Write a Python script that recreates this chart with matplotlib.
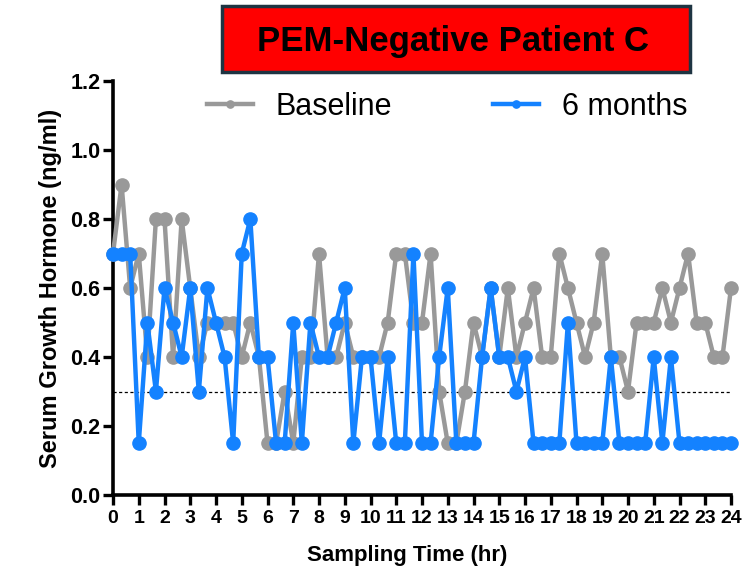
import matplotlib
matplotlib.use("Agg")
import matplotlib.pyplot as plt
from matplotlib import font_manager
from matplotlib.patches import FancyBboxPatch

plt.rcParams['font.family'] = ['Liberation Sans', 'DejaVu Sans']
names = {f.name for f in font_manager.fontManager.ttflist}
narrow = 'Liberation Sans Narrow' if 'Liberation Sans Narrow' in names else 'Liberation Sans'

# sampling every 20 minutes, 0..24 hr
time_hr = [i / 3 for i in range(73)]

baseline = [0.7, 0.9, 0.6, 0.7, 0.4, 0.8, 0.8, 0.4, 0.8, 0.6,
            0.4, 0.5, 0.5, 0.5, 0.5, 0.4, 0.5, 0.4, 0.15, 0.15,
            0.3, 0.15, 0.4, 0.4, 0.7, 0.4, 0.4, 0.5, 0.4, 0.4,
            0.4, 0.4, 0.5, 0.7, 0.7, 0.5, 0.5, 0.7, 0.3, 0.15,
            0.15, 0.3, 0.5, 0.4, 0.6, 0.4, 0.6, 0.4, 0.5, 0.6,
            0.4, 0.4, 0.7, 0.6, 0.5, 0.4, 0.5, 0.7, 0.4, 0.4,
            0.3, 0.5, 0.5, 0.5, 0.6, 0.5, 0.6, 0.7, 0.5, 0.5,
            0.4, 0.4, 0.6]

six_months = [0.7, 0.7, 0.7, 0.15, 0.5, 0.3, 0.6, 0.5, 0.4, 0.6,
              0.3, 0.6, 0.5, 0.4, 0.15, 0.7, 0.8, 0.4, 0.4, 0.15,
              0.15, 0.5, 0.15, 0.5, 0.4, 0.4, 0.5, 0.6, 0.15, 0.4,
              0.4, 0.15, 0.4, 0.15, 0.15, 0.7, 0.15, 0.15, 0.4, 0.6,
              0.15, 0.15, 0.15, 0.4, 0.6, 0.4, 0.4, 0.3, 0.4, 0.15,
              0.15, 0.15, 0.15, 0.5, 0.15, 0.15, 0.15, 0.15, 0.4, 0.15,
              0.15, 0.15, 0.15, 0.4, 0.15, 0.4, 0.15, 0.15, 0.15, 0.15,
              0.15, 0.15, 0.15]

threshold = 0.3
x_ticks = list(range(25))
y_ticks = [0.0, 0.2, 0.4, 0.6, 0.8, 1.0, 1.2]

gray = '#999999'
blue = '#1482FF'

fig = plt.figure(figsize=(7.56, 5.72), dpi=100)
ax = fig.add_axes([113/756, 1 - 495/572, (731-113)/756, (495-81)/572])

l1, = ax.plot(time_hr, baseline, color=gray, lw=3.2, marker='o', ms=9.5,
              clip_on=False, zorder=3, label='Baseline')
l2, = ax.plot(time_hr, six_months, color=blue, lw=3.2, marker='o', ms=9.5,
              clip_on=False, zorder=4, label='6 months')
ax.plot([0, 24], [threshold, threshold], color='black', lw=0.9,
        ls=(0, (2.5, 2)), zorder=2)

ax.set_xlim(0, 24)
ax.set_ylim(0, 1.2)
ax.set_xticks(x_ticks)
ax.set_xticklabels([str(t) for t in x_ticks], fontsize=14, fontweight='bold',
                   family=[narrow, 'DejaVu Sans'])
ax.set_yticks(y_ticks)
ax.set_yticklabels([f'{v:.1f}' for v in y_ticks], fontsize=15.5, fontweight='bold',
                   family=[narrow, 'DejaVu Sans'])

for s in ['top', 'right']:
    ax.spines[s].set_visible(False)
for s in ['left', 'bottom']:
    ax.spines[s].set_linewidth(2.6)
ax.tick_params(axis='both', width=2.4, length=7, direction='out')
ax.tick_params(axis='x', pad=4)
ax.tick_params(axis='y', pad=2)

ax.set_xlabel('Sampling Time (hr)', fontsize=16, fontweight='bold')
ax.xaxis.set_label_coords((407-113)/(731-113), -(545-495)/(495-81))
ax.set_ylabel('Serum Growth Hormone (ng/ml)', fontsize=17, fontweight='bold', labelpad=6)

ax.legend(handles=[l1, l2], loc='center', bbox_to_anchor=(447/756, 1 - 107/572),
          bbox_transform=fig.transFigure, ncol=2, frameon=False,
          fontsize=22, markerscale=0.55, handlelength=1.5,
          columnspacing=3.3, handletextpad=0.75)

# title box
fig.patches.append(FancyBboxPatch((222/756, 1 - 72/572), (690-222)/756, (72-6)/572,
                                  boxstyle='square,pad=0', transform=fig.transFigure,
                                  facecolor='#FF0000', edgecolor='#1E3442', linewidth=2.5))
fig.text(453/756, 1 - 41/572, 'PEM-Negative Patient C', ha='center', va='center',
         fontsize=25, fontweight='bold', color='black')

fig.savefig('out.png', dpi=100)
